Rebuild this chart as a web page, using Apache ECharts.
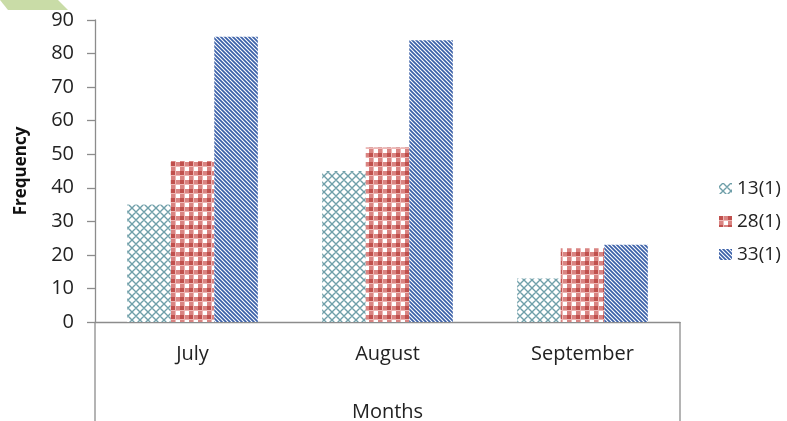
<!DOCTYPE html>
<html><head><meta charset="utf-8">
<script src="https://cdn.jsdelivr.net/npm/echarts@6/dist/echarts.min.js"></script>
<style>html,body{margin:0;padding:0;background:#fff;overflow:hidden}#c{width:787px;height:421px}</style>
</head><body><div id="c"></div>
<script>
const categories = ['July', 'August', 'September'];
const seriesNames = ['13(1)', '28(1)', '33(1)'];
const s13 = [35, 45, 13];
const s28 = [48, 52, 22];
const s33 = [85, 84, 23];
const yTicks = [0, 10, 20, 30, 40, 50, 60, 70, 80, 90];

function mk(w, h, draw) {
  const c = document.createElement('canvas'); c.width = w; c.height = h;
  const g = c.getContext('2d'); g.fillStyle = '#fff'; g.fillRect(0, 0, w, h); draw(g); return c;
}
// teal diamond lattice
const patTeal = mk(8, 8, g => {
  g.strokeStyle = '#6f9fa9'; g.lineWidth = 1.4;
  g.beginPath();
  g.moveTo(0, 4); g.lineTo(4, 0); g.lineTo(8, 4); g.lineTo(4, 8); g.closePath();
  g.stroke();
});
// red plaid
const patRed = mk(9, 9, g => {
  g.fillStyle = '#eeb7b5'; g.fillRect(0, 0, 9, 9);
  g.fillStyle = '#ffffff'; g.fillRect(5, 5, 4, 4);
  g.fillStyle = '#d98482'; g.fillRect(0, 5, 4, 4); g.fillRect(5, 0, 4, 4);
  g.fillStyle = '#c0504d'; g.fillRect(0, 0, 4, 4);
});
// blue diagonal stripes
const patBlue = mk(4, 4, g => {
  g.strokeStyle = '#3a60a8'; g.lineWidth = 1.7;
  g.beginPath();
  g.moveTo(-1, -1); g.lineTo(5, 5);
  g.moveTo(-1, 3); g.lineTo(1, 5);
  g.moveTo(3, -1); g.lineTo(5, 1);
  g.stroke();
});
const pats = [patTeal, patRed, patBlue];
const dataSets = [s13, s28, s33];

const chart = echarts.init(document.getElementById('c'));
const FONT = 'Open Sans';
const W = 787, H = 421;
const gridL = 95, gridR = 107, gridT = 20, gridB = 99;
chart.setOption({
  animation: false,
  backgroundColor: '#fff',
  textStyle: { fontFamily: FONT },
  grid: { left: gridL, right: gridR, top: gridT, bottom: gridB, containLabel: false, outerBoundsMode: 'none' },
  legend: {
    orient: 'vertical', left: 714, top: 174,
    itemWidth: 13, itemHeight: 11, itemGap: 14,
    textStyle: { fontSize: 19, color: '#222', fontFamily: FONT },
    data: seriesNames.map(n => ({ name: n, icon: 'rect' }))
  },
  xAxis: {
    type: 'category', data: categories,
    name: 'Months', nameLocation: 'middle', nameGap: 80,
    nameTextStyle: { fontSize: 20, color: '#222', fontFamily: FONT },
    axisLine: { lineStyle: { color: '#8c8c8c', width: 1.3 } },
    axisTick: { show: false },
    axisLabel: { fontSize: 20, color: '#222', margin: 22, fontFamily: FONT }
  },
  yAxis: {
    type: 'value', min: 0, max: 90, interval: 10,
    name: 'Frequency', nameLocation: 'middle', nameGap: 65, nameRotate: 90,
    nameTextStyle: { fontSize: 17, fontWeight: 'bold', color: '#111', fontFamily: FONT },
    axisLine: { show: true, lineStyle: { color: '#8c8c8c', width: 1.3 } },
    axisTick: { show: true, inside: false, length: 8, lineStyle: { color: '#8c8c8c', width: 1.3 } },
    splitLine: { show: false },
    axisLabel: { fontSize: 20, color: '#222', margin: 21, fontFamily: FONT,
      formatter: v => yTicks.includes(v) ? String(v) : '' }
  },
  series: dataSets.map((d, i) => ({
    name: seriesNames[i], type: 'bar', data: d,
    barGap: '0%', barCategoryGap: '33%',
    itemStyle: { color: { image: pats[i], repeat: 'repeat' } }
  })),
  graphic: [
    { type: 'polygon', shape: { points: [[0, 0], [58, 0], [68, 10], [8, 10]] }, style: { fill: '#c9dca7' }, silent: true },
    { type: 'line', shape: { x1: gridL, y1: H - gridB, x2: gridL, y2: H }, style: { stroke: '#8c8c8c', lineWidth: 1.3 } },
    { type: 'line', shape: { x1: W - gridR, y1: H - gridB, x2: W - gridR, y2: H }, style: { stroke: '#8c8c8c', lineWidth: 1.3 } }
  ]
});
</script></body></html>
